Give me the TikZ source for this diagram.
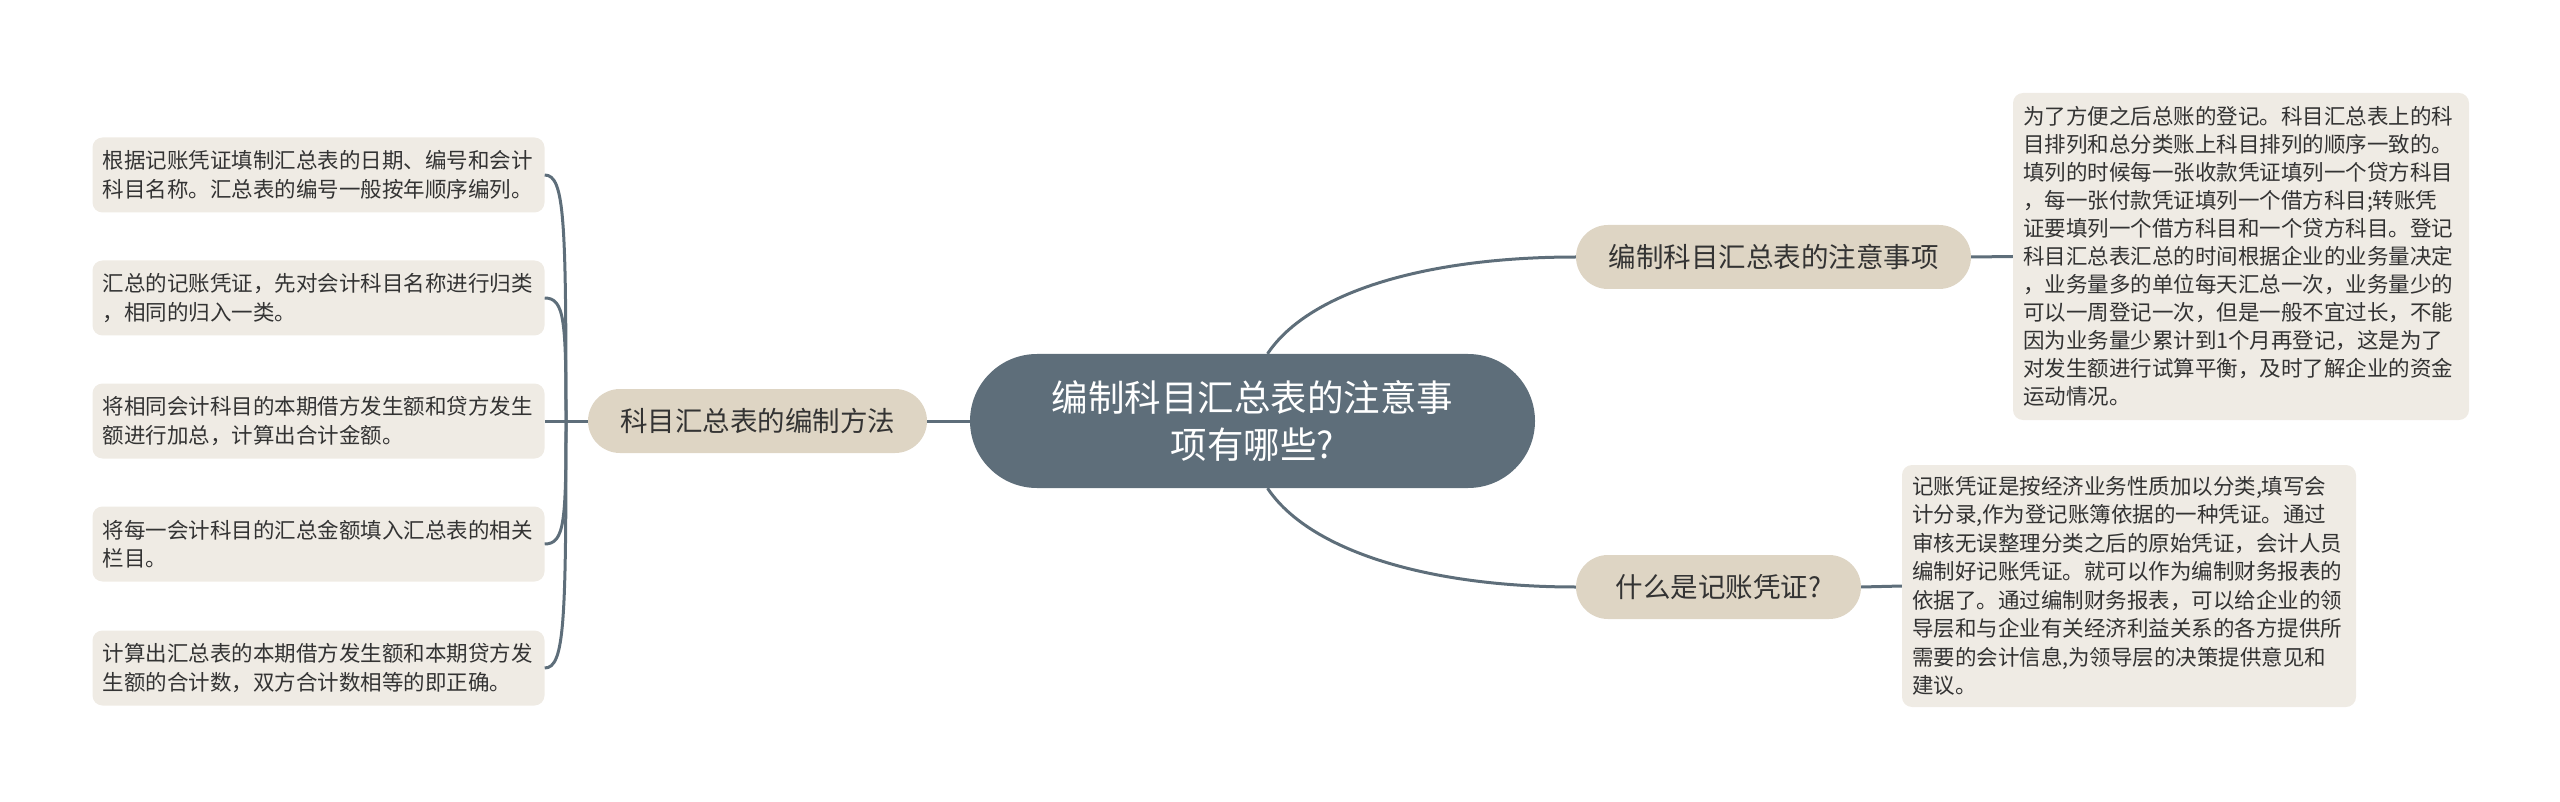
\documentclass[tikz,border=0pt]{standalone}
\usepackage{fontspec}
\setmainfont{Noto Sans CJK SC}
\definecolor{rootc}{RGB}{94,110,122}
\definecolor{topicc}{RGB}{222,213,196}
\definecolor{notec}{RGB}{239,235,228}
\definecolor{textc}{RGB}{51,51,51}

\begin{document}
\begin{tikzpicture}[x=1pt,y=-1pt,
root/.style={rectangle,fill=rootc,text=white,rounded corners=67pt,minimum width=565pt,minimum height=134pt,align=center,font=\fontsize{36.5}{47}\selectfont},
topic/.style={rectangle,fill=topicc,text=textc,rounded corners=32pt,minimum height=64pt,font=\fontsize{27.5}{33}\selectfont},
note/.style={rectangle,fill=notec,text=textc,rounded corners=10pt,inner xsep=10pt,inner ysep=8pt,text width=432pt,align=left,font=\fontsize{21.5}{28.5}\selectfont},
link/.style={draw=rootc,line width=3pt}]
\useasboundingbox (0,0) rectangle (2560,802);
\node[root] (C) at (1252.5,421) {编制科目汇总表的注意事\\项有哪些?};
\node[topic,minimum width=339pt] (B1) at (757.5,421) {科目汇总表的编制方法};
\node[topic,minimum width=395pt] (B2) at (1773.5,257) {编制科目汇总表的注意事项};
\node[topic,minimum width=285pt] (B3) at (1718.5,587) {什么是记账凭证?};
\node[note,minimum height=75pt] (L1) at (318.5,175) {根据记账凭证填制汇总表的日期、编号和会计\\科目名称。汇总表的编号一般按年顺序编列。};
\node[note,minimum height=75pt] (L2) at (318.5,298) {汇总的记账凭证，先对会计科目名称进行归类\\，相同的归入一类。};
\node[note,minimum height=75pt] (L3) at (318.5,421) {将相同会计科目的本期借方发生额和贷方发生\\额进行加总，计算出合计金额。};
\node[note,minimum height=75pt] (L4) at (318.5,544) {将每一会计科目的汇总金额填入汇总表的相关\\栏目。};
\node[note,minimum height=75pt] (L5) at (318.5,668) {计算出汇总表的本期借方发生额和本期贷方发\\生额的合计数，双方合计数相等的即正确。};
\node[note,text width=436pt,minimum height=327pt,font=\fontsize{21.5}{28}\selectfont] (R1) at (2241,256.5) {为了方便之后总账的登记。科目汇总表上的科\\目排列和总分类账上科目排列的顺序一致的。\\填列的时候每一张收款凭证填列一个贷方科目\\，每一张付款凭证填列一个借方科目;转账凭\\证要填列一个借方科目和一个贷方科目。登记\\科目汇总表汇总的时间根据企业的业务量决定\\，业务量多的单位每天汇总一次，业务量少的\\可以一周登记一次，但是一般不宜过长，不能\\因为业务量少累计到1个月再登记，这是为了\\对发生额进行试算平衡，及时了解企业的资金\\运动情况。};
\node[note,text width=434pt,minimum height=242pt,font=\fontsize{21.5}{28.5}\selectfont] (R2) at (2129,586) {记账凭证是按经济业务性质加以分类,填写会\\计分录,作为登记账簿依据的一种凭证。通过\\审核无误整理分类之后的原始凭证，会计人员\\编制好记账凭证。就可以作为编制财务报表的\\依据了。通过编制财务报表，可以给企业的领\\导层和与企业有关经济利益关系的各方提供所\\需要的会计信息,为领导层的决策提供意见和\\建议。};
\coordinate (J) at (566,421);
\draw[link] (C.west) -- (B1.east);
\draw[link] (B1.west) -- (J) -- (L3.east);
\draw[link] (J) .. controls +(0,-200) and +(20,0) .. (L1.east);
\draw[link] (J) .. controls +(0,-100) and +(20,0) .. (L2.east);
\draw[link] (J) .. controls +(0,100) and +(20,0) .. (L4.east);
\draw[link] (J) .. controls +(0,200) and +(20,0) .. (L5.east);
\draw[link] (C.north) ++(15,0) .. controls +(42,-63) and +(-147,0) .. (B2.west);
\draw[link] (C.south) ++(15,0) .. controls +(42,63) and +(-147,0) .. (B3.west);
\draw[link] (B2.east) -- (R1.west);
\draw[link] (B3.east) -- (R2.west);
\end{tikzpicture}
\end{document}
